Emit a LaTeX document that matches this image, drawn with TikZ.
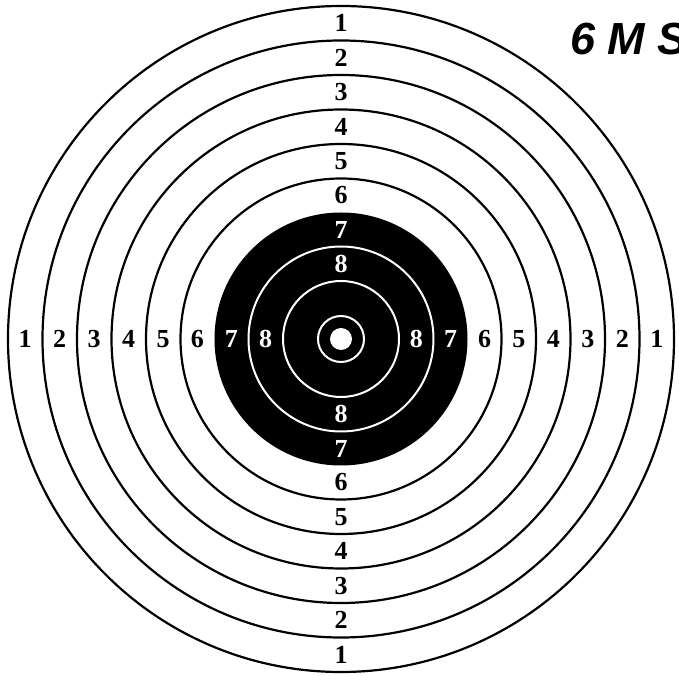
\documentclass[tikz,border=0pt]{standalone}
\usepackage{fontspec}
\setmainfont{Liberation Serif}
\newfontfamily\titlefont{Liberation Sans}
\usetikzlibrary{positioning}

\begin{document}
\begin{tikzpicture}[
    x=1pt, y=1pt,
    ring/.style={draw=black, line width=2.2pt},
    wring/.style={draw=white, line width=2pt},
    num/.style={font=\bfseries\fontsize{26}{26}\selectfont, text=black, inner sep=0pt},
    numw/.style={num, text=white},
    heading/.style={font=\titlefont\bfseries\itshape\fontsize{45}{45}\selectfont, anchor=base west, inner sep=0pt}
]

% Page frame
\clip (-341,-337) rectangle (338,339);
\fill[white] (-341,-337) rectangle (338,339);
\coordinate (c) at (0,0);

% Outer rings
\draw[ring] (c) circle (333);
\draw[ring] (c) circle (298.5);
\draw[ring] (c) circle (264);
\draw[ring] (c) circle (229.5);
\draw[ring] (c) circle (195);
\draw[ring] (c) circle (160.5);

% Black aiming mark
\fill[black] (c) circle (126.5);
\draw[wring] (c) circle (92.5);
\draw[wring] (c) circle (58);
\draw[wring] (c) circle (23);
\fill[white] (c) circle (11);

% Ring numbers: top
\node[num] (n1t) at (0,315.75) {1};
\node[num] (n2t) at (0,281.25) {2};
\node[num] (n3t) at (0,246.75) {3};
\node[num] (n4t) at (0,212.25) {4};
\node[num] (n5t) at (0,177.75) {5};
\node[num] (n6t) at (0,143.5) {6};
\node[numw] (n7t) at (0,109.5) {7};
\node[numw] (n8t) at (0,75.25) {8};

% Ring numbers: bottom
\node[num] (n1b) at (0,-315.75) {1};
\node[num] (n2b) at (0,-281.25) {2};
\node[num] (n3b) at (0,-246.75) {3};
\node[num] (n4b) at (0,-212.25) {4};
\node[num] (n5b) at (0,-177.75) {5};
\node[num] (n6b) at (0,-143.5) {6};
\node[numw] (n7b) at (0,-109.5) {7};
\node[numw] (n8b) at (0,-75.25) {8};

% Ring numbers: left
\node[num] (n1l) at (-315.75,0) {1};
\node[num] (n2l) at (-281.25,0) {2};
\node[num] (n3l) at (-246.75,0) {3};
\node[num] (n4l) at (-212.25,0) {4};
\node[num] (n5l) at (-177.75,0) {5};
\node[num] (n6l) at (-143.5,0) {6};
\node[numw] (n7l) at (-109.5,0) {7};
\node[numw] (n8l) at (-75.25,0) {8};

% Ring numbers: right
\node[num] (n1r) at (315.75,0) {1};
\node[num] (n2r) at (281.25,0) {2};
\node[num] (n3r) at (246.75,0) {3};
\node[num] (n4r) at (212.25,0) {4};
\node[num] (n5r) at (177.75,0) {5};
\node[num] (n6r) at (143.5,0) {6};
\node[numw] (n7r) at (109.5,0) {7};
\node[numw] (n8r) at (75.25,0) {8};

% Heading
\node[heading] (title) at (229,284) {6 M S};

\end{tikzpicture}
\end{document}
